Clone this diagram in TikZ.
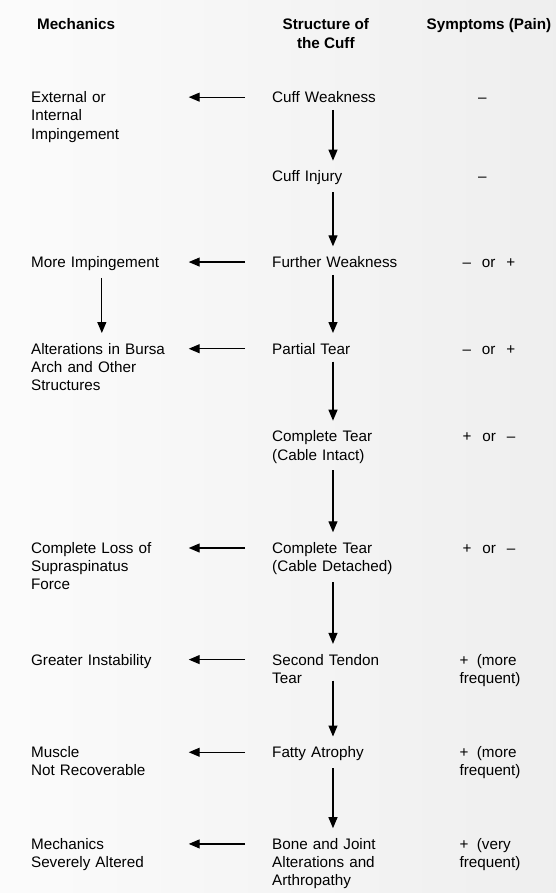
\documentclass[tikz,border=0pt]{standalone}
\usepackage{fontspec}
\setmainfont{Liberation Sans}
\usetikzlibrary{arrows.meta}

\begin{document}
\begin{tikzpicture}[
    x=1pt, y=-1pt,
    font=\fontsize{15.3}{18.3}\selectfont,
    head/.style={font=\fontsize{15.3}{19}\selectfont\bfseries, inner sep=0, anchor=base west},
    mech/.style={text width=158pt, align=left, inner xsep=0, inner ysep=7pt, anchor=base west},
    cuff/.style={text width=122pt, align=left, inner xsep=0, inner ysep=7pt, anchor=base west},
    pain/.style={align=left, inner sep=0, anchor=base west},
    down/.style={-{Triangle[length=11pt,width=9pt]}, line width=1.2pt, shorten >=3pt},
    back/.style={-{Triangle[length=11pt,width=9pt]}, line width=1.2pt, shorten <=27pt},
]

% Page
\shade[left color=gray!3, right color=gray!13] (0,0) rectangle (558,896);

% Headings
\node[head] (hmech) at (37,29.5) {Mechanics};
\node[head, align=center, anchor=base] (hcuff) at (327,48.5) {Structure of\\the Cuff};
\node[head] (hpain) at (428,29.5) {Symptoms (Pain)};

% Structure of the cuff
\node[cuff] (weak) at (273,103) {Cuff Weakness};
\node[cuff] (injury) at (273,182.5) {Cuff Injury};
\node[cuff] (further) at (273,268.5) {\mbox{Further Weakness}};
\node[cuff] (partial) at (273,355.5) {Partial Tear};
\node[cuff] (intact) at (273,443.5) {Complete Tear\\(Cable Intact)};
\node[cuff] (detached) at (273,555.5) {Complete Tear\\(Cable Detached)};
\node[cuff] (second) at (273,667.5) {Second Tendon\\Tear};
\node[cuff] (fatty) at (273,760.5) {Fatty Atrophy};
\node[cuff] (bone) at (273,852.5) {Bone and Joint\\Alterations and\\Arthropathy};

% Mechanics
\node[mech] (impinge) at (31,103) {External or\\Internal\\Impingement};
\node[mech] (more) at (31,268.5) {More Impingement};
\node[mech] (bursa) at (31,355.5) {Alterations in Bursa\\Arch and Other\\Structures};
\node[mech] (loss) at (31,555.5) {Complete Loss of\\Supraspinatus\\Force};
\node[mech] (instab) at (31,667.5) {Greater Instability};
\node[mech] (muscle) at (31,760.5) {Muscle\\Not Recoverable};
\node[mech] (altered) at (31,852.5) {Mechanics\\Severely Altered};

% Symptoms
\node[pain, anchor=base] (pweak) at (484,103) {–};
\node[pain, anchor=base] (pinjury) at (484,182.5) {–};
\node[pain] (pfurther) at (464,268.5) {–\hspace{11pt}or\hspace{11pt}+};
\node[pain] (ppartial) at (464,355.5) {–\hspace{11pt}or\hspace{11pt}+};
\node[pain] (pintact) at (464,443.5) {+\hspace{11pt}or\hspace{11pt}–};
\node[pain] (pdetached) at (464,555.5) {+\hspace{11pt}or\hspace{11pt}–};
\node[pain] (psecond) at (461,685.8) {+\ \ (more\\frequent)};
\node[pain] (pfatty) at (461,778.8) {+\ \ (more\\frequent)};
\node[pain] (pbone) at (461,870.8) {+\ \ (very\\frequent)};

% Down the cuff
\draw[down] (weak) -- (injury);
\draw[down] (injury) -- (further);
\draw[down] (further) -- (partial);
\draw[down] (partial) -- (intact);
\draw[down] (intact) -- (detached);
\draw[down] (detached) -- (second);
\draw[down] ([yshift=10pt]second.south) -- (fatty.north);
\draw[down] (fatty) -- (bone);
\draw[down] ([xshift=-8pt]more.south) -- ([xshift=-8pt]bursa.north);

% Cuff to mechanics
\draw[back] ([yshift=5.5pt]weak.base west) -- ([yshift=5.5pt]impinge.base east);
\draw[back] ([yshift=5.5pt]further.base west) -- ([yshift=5.5pt]more.base east);
\draw[back] ([yshift=5.5pt]partial.base west) -- ([yshift=5.5pt]bursa.base east);
\draw[back] ([yshift=5.5pt]detached.base west) -- ([yshift=5.5pt]loss.base east);
\draw[back] ([yshift=5.5pt]second.base west) -- ([yshift=5.5pt]instab.base east);
\draw[back] ([yshift=5.5pt]fatty.base west) -- ([yshift=5.5pt]muscle.base east);
\draw[back] ([yshift=5.5pt]bone.base west) -- ([yshift=5.5pt]altered.base east);

\end{tikzpicture}
\end{document}
